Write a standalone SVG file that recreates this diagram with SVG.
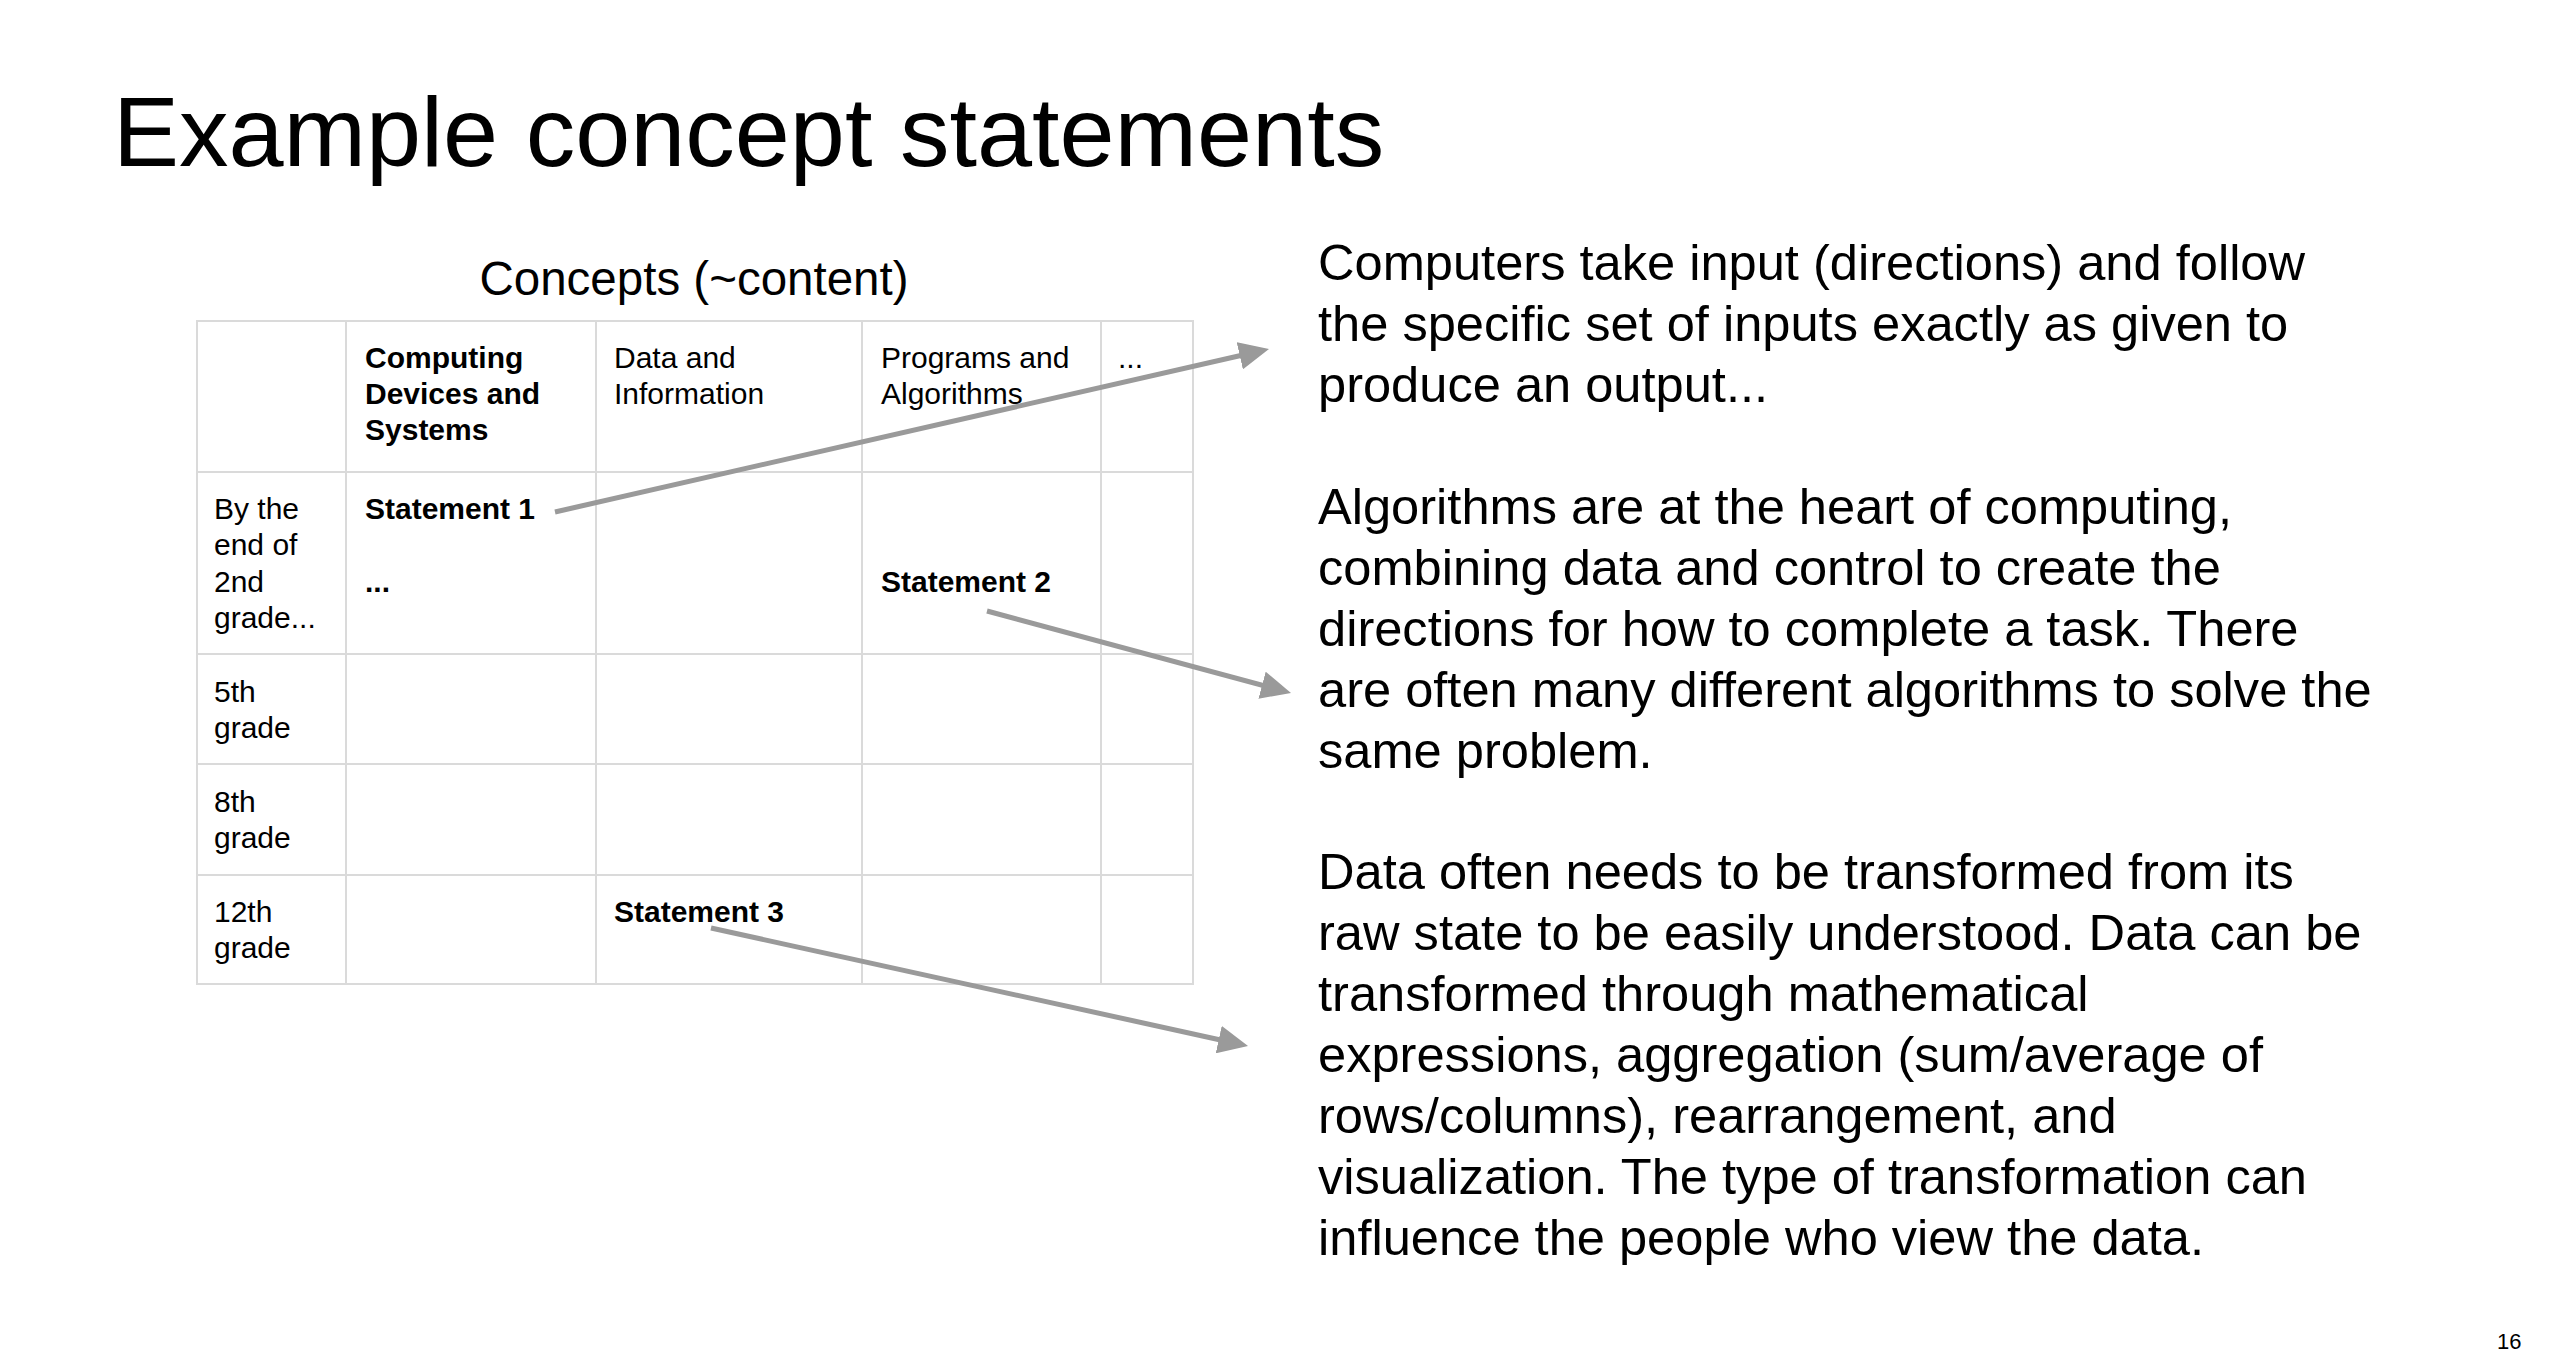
<svg xmlns="http://www.w3.org/2000/svg" width="2560" height="1371" viewBox="0 0 2560 1371">
<style>
text{font-family:"Liberation Sans",Arial,Helvetica,sans-serif;fill:#000}
.title{font-size:99px}
.sub{font-size:47.5px}
.cell{font-size:30px}
.b{font-weight:bold}
.para{font-size:50.6px}
.grid line{stroke:#dadada;stroke-width:2}
.conn{stroke:#9a9a9a;stroke-width:5;fill:none;marker-end:url(#ah)}
.pg{font-size:22px}
</style>
<defs>
<marker id="ah" viewBox="0 0 30 28" refX="10" refY="14" markerWidth="30" markerHeight="28" markerUnits="userSpaceOnUse" orient="auto">
<path d="M0,0 L30,14 L0,28 Z" fill="#9a9a9a"/>
</marker>
</defs>
<rect width="2560" height="1371" fill="#fff"/>
<g id="title"><text class="title" x="113" y="166">Example concept statements</text></g>
<g id="subtitle"><text class="sub" x="694" y="295" text-anchor="middle">Concepts (~content)</text></g>
<g id="table">
<g class="grid">
<line x1="196" y1="321" x2="1193" y2="321"/>
<line x1="196" y1="472" x2="1193" y2="472"/>
<line x1="196" y1="654" x2="1193" y2="654"/>
<line x1="196" y1="764" x2="1193" y2="764"/>
<line x1="196" y1="875" x2="1193" y2="875"/>
<line x1="196" y1="984" x2="1193" y2="984"/>
<line x1="197" y1="320" x2="197" y2="985"/>
<line x1="346" y1="320" x2="346" y2="985"/>
<line x1="596" y1="320" x2="596" y2="985"/>
<line x1="862" y1="320" x2="862" y2="985"/>
<line x1="1101" y1="320" x2="1101" y2="985"/>
<line x1="1193" y1="320" x2="1193" y2="985"/>
</g>
<g id="hdr-computing"><text class="cell b" x="365" y="368">Computing</text><text class="cell b" x="365" y="404">Devices and</text><text class="cell b" x="365" y="440">Systems</text></g>
<g id="hdr-data"><text class="cell" x="614" y="368">Data and</text><text class="cell" x="614" y="404">Information</text></g>
<g id="hdr-programs"><text class="cell" x="881" y="368">Programs and</text><text class="cell" x="881" y="404">Algorithms</text></g>
<g id="hdr-more"><text class="cell" x="1118" y="368">...</text></g>
<g id="row-2nd"><text class="cell" x="214" y="519">By the</text><text class="cell" x="214" y="555">end of</text><text class="cell" x="214" y="592">2nd</text><text class="cell" x="214" y="628">grade...</text></g>
<g id="row-5th"><text class="cell" x="214" y="702">5th</text><text class="cell" x="214" y="738">grade</text></g>
<g id="row-8th"><text class="cell" x="214" y="812">8th</text><text class="cell" x="214" y="848">grade</text></g>
<g id="row-12th"><text class="cell" x="214" y="922">12th</text><text class="cell" x="214" y="958">grade</text></g>
<g id="cell-more"><text class="cell b" x="365" y="592">...</text></g>
</g>
<g id="statement1"><text class="cell b" x="365" y="519">Statement 1</text></g>
<g id="statement2"><text class="cell b" x="881" y="592">Statement 2</text></g>
<g id="statement3"><text class="cell b" x="614" y="922">Statement 3</text></g>
<g id="para1">
<text class="para" x="1318" y="280">Computers take input (directions) and follow</text>
<text class="para" x="1318" y="341">the specific set of inputs exactly as given to</text>
<text class="para" x="1318" y="402">produce an output...</text>
</g>
<g id="para2">
<text class="para" x="1318" y="524">Algorithms are at the heart of computing,</text>
<text class="para" x="1318" y="585">combining data and control to create the</text>
<text class="para" x="1318" y="646">directions for how to complete a task. There</text>
<text class="para" x="1318" y="707">are often many different algorithms to solve the</text>
<text class="para" x="1318" y="768">same problem.</text>
</g>
<g id="para3">
<text class="para" x="1318" y="889">Data often needs to be transformed from its</text>
<text class="para" x="1318" y="950">raw state to be easily understood. Data can be</text>
<text class="para" x="1318" y="1011">transformed through mathematical</text>
<text class="para" x="1318" y="1072">expressions, aggregation (sum/average of</text>
<text class="para" x="1318" y="1133">rows/columns), rearrangement, and</text>
<text class="para" x="1318" y="1194">visualization. The type of transformation can</text>
<text class="para" x="1318" y="1255">influence the people who view the data.</text>
</g>
<g id="connectors">
<line class="conn" x1="555" y1="512" x2="1249.5" y2="353.5"/>
<line class="conn" x1="987" y1="611" x2="1271.7" y2="687.8"/>
<line class="conn" x1="711" y1="928" x2="1228.5" y2="1041.7"/>
</g>
<g id="page-number"><text class="pg" x="2497" y="1349">16</text></g>
</svg>
